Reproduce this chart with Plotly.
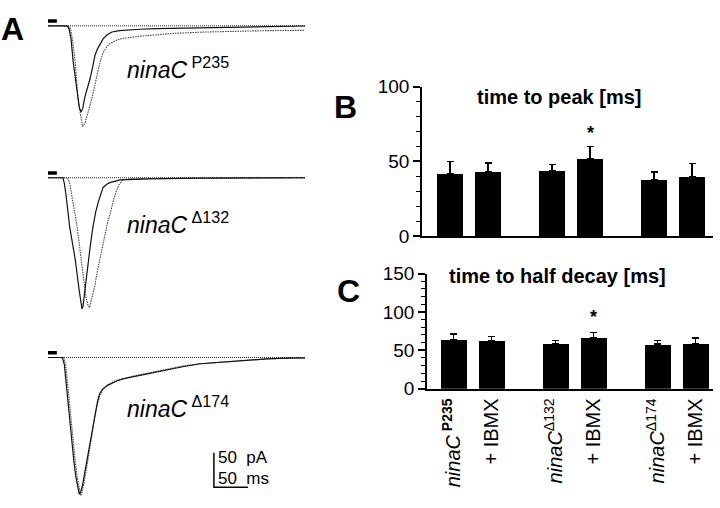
import plotly.graph_objects as go

W, H = 720, 508

# ---- Panel A: photoresponses (time in ms, current in pA) ----
p235_ctrl_t = [0, 28, 31, 34, 37, 40, 43, 46, 48.5, 51, 54, 58, 62, 66, 69, 73, 76, 81, 87, 94,
               105, 116, 135, 160, 190, 224, 260, 297, 340, 378]
p235_ctrl_i = [0, 0, -4, -20, -52, -76, -98, -118, -125, -120, -104, -90, -76, -58, -43, -33, -27,
               -19, -13, -9, -7, -6, -5, -4, -3.5, -2.5, -1.8, -1, -0.6, -0.3]
p235_ibmx_t = [0, 30, 33, 36, 40, 44, 48, 51, 54, 57, 61, 66, 70, 74, 78, 81, 86, 91, 98, 106,
               120, 135, 160, 184, 230, 268, 320, 378]
p235_ibmx_i = [0, 0, -4, -20, -53, -104, -130, -146, -142, -133, -118, -99, -80, -63, -48, -39,
               -31, -26, -22, -19, -17, -15, -13, -11, -9, -8, -7, -6.5]

d132_ctrl_t = [0, 22, 24, 26.5, 32, 40, 46, 48.5, 50, 51.5, 54, 59, 62, 66, 70, 74, 78, 81, 87,
               91, 106, 150, 220, 300, 378]
d132_ctrl_i = [0, 0, -8, -25, -72, -118, -164, -182, -190, -186, -164, -128, -100, -72, -50, -35,
               -22, -14, -9, -7, -3, -1.5, -0.5, 0, 0]
d132_ibmx_t = [0, 29, 32, 35, 43, 50, 56, 59, 61, 63, 66, 69, 72, 76, 80, 84, 88, 92, 96, 101,
               105, 110, 120, 150, 220, 300, 378]
d132_ibmx_i = [0, 0, -8, -25, -72, -128, -174, -185, -188, -180, -168, -156, -138, -118, -100,
               -82, -63, -50, -33, -18, -9, -3, -1.5, -1, -0.5, 0, 0]

d174_ctrl_t = [0, 21, 24, 26, 28, 31, 35, 38, 41, 44, 46, 48, 51, 54, 58, 62, 66, 69, 73, 76, 81,
               87, 94, 101, 110, 125, 150, 175, 200, 224, 250, 272, 300, 322, 350, 378]
d174_ctrl_i = [0, 0, -10, -30, -52, -85, -122, -150, -173, -192, -198, -195, -184, -167, -145,
               -122, -98, -80, -63, -52, -45, -41, -37, -34, -31, -28, -22, -17, -13, -9, -7, -6,
               -4, -2, -1, -0.5]
d174_ibmx_t = [0, 23, 26, 28, 30, 33, 37, 40, 43, 46, 48, 50, 53, 56, 60, 64, 68, 72, 76, 81, 87,
               94, 101, 110, 125, 150, 175, 200, 224, 250, 272, 300, 322, 350, 378]
d174_ibmx_i = [0, 0, -10, -30, -52, -85, -122, -150, -173, -192, -200, -196, -182, -165, -140,
               -114, -90, -70, -56, -46, -40, -36, -33, -31, -27, -22, -17, -12, -9, -7, -5, -3,
               -2, -1, -0.5]

stim_t = [0, 13]        # flash duration (ms)
stim_level = 7          # drawn just above baseline (pA)
record_t = [0, 378]     # length of each sweep (ms)
scale_ms = 50
scale_pA = 50

# ---- Panels B and C: summary bars ----
bar_labels = ["<i>ninaC</i><sup><b> P235</b></sup>", "+ IBMX",
              "<i>ninaC</i><sup>Δ132</sup>", "+ IBMX",
              "<i>ninaC</i><sup>Δ174</sup>", "+ IBMX"]
peak_mean = [42, 43, 44, 52, 38, 40]
peak_err = [8, 6, 4, 8, 5, 8.5]
half_mean = [64, 62, 59, 67, 58, 59]
half_err = [7, 6, 4, 6, 5, 7]
signif = [False, False, False, True, False, False]

# ---------------------------------------------------------------
def px_x(p):
    return p / W


def px_y(p):
    return 1 - p / H


PX_PER_MS = 0.68
PX_PER_PA = 0.72
A_LEFT, A_RIGHT, T0_PX = 40, 310, 48

fig = go.Figure()

rows = [
    (p235_ctrl_t, p235_ctrl_i, p235_ibmx_t, p235_ibmx_i, 5, 135, 16.5),
    (d132_ctrl_t, d132_ctrl_i, d132_ibmx_t, d132_ibmx_i, 160, 320, 175),
    (d174_ctrl_t, d174_ctrl_i, d174_ibmx_t, d174_ibmx_i, 345, 508, 362.5),
]

layout_axes = {}
for k, (ct, ci, it, ii, top, bot, base) in enumerate(rows, start=1):
    xa = "x" if k == 1 else "x%d" % k
    ya = "y" if k == 1 else "y%d" % k
    # baseline (dotted reference)
    fig.add_trace(go.Scatter(x=record_t, y=[0, 0], mode="lines", xaxis=xa, yaxis=ya,
                             line=dict(color="#222", width=1, dash="1px,1px"), showlegend=False))
    fig.add_trace(go.Scatter(x=it, y=ii, mode="lines", xaxis=xa, yaxis=ya,
                             line=dict(color="#444", width=1.1, dash="1.5px,1px"),
                             showlegend=False))
    fig.add_trace(go.Scatter(x=ct, y=ci, mode="lines", xaxis=xa, yaxis=ya,
                             line=dict(color="#111", width=1.2), showlegend=False))
    # flash marker
    fig.add_trace(go.Scatter(x=stim_t, y=[stim_level] * 2, mode="lines", xaxis=xa, yaxis=ya,
                             line=dict(color="black", width=3.5), showlegend=False))
    xkey = "xaxis" if k == 1 else "xaxis%d" % k
    ykey = "yaxis" if k == 1 else "yaxis%d" % k
    layout_axes[xkey] = dict(domain=[px_x(A_LEFT), px_x(A_RIGHT)],
                             range=[(A_LEFT - T0_PX) / PX_PER_MS, (A_RIGHT - T0_PX) / PX_PER_MS],
                             visible=False, anchor=ya)
    layout_axes[ykey] = dict(domain=[px_y(bot), px_y(top)],
                             range=[-(bot - base) / PX_PER_PA, (base - top) / PX_PER_PA],
                             visible=False, anchor=xa)

# scale bar on the bottom sweep
sb_t0, sb_i0 = 244, -188
fig.add_trace(go.Scatter(x=[sb_t0, sb_t0, sb_t0 + scale_ms],
                         y=[sb_i0 + scale_pA, sb_i0, sb_i0],
                         mode="lines", xaxis="x3", yaxis="y3",
                         line=dict(color="black", width=1.5), showlegend=False))

# bar positions: two bars per genotype, wider gap between genotypes
group_gap = 2.685
xpos = [g * group_gap + j for g in range(3) for j in (0, 1)]
bw = 26 / 38

fig.add_trace(go.Bar(x=xpos, y=peak_mean, width=bw, marker=dict(color="black", line_width=0),
                     error_y=dict(type="data", array=peak_err, arrayminus=[0] * 6, symmetric=False,
                                  color="black", thickness=1.5, width=3.5),
                     xaxis="x4", yaxis="y4", showlegend=False))
fig.add_trace(go.Bar(x=xpos, y=half_mean, width=bw, marker=dict(color="black", line_width=0),
                     error_y=dict(type="data", array=half_err, arrayminus=[0] * 6, symmetric=False,
                                  color="black", thickness=1.5, width=3.5),
                     xaxis="x5", yaxis="y5", showlegend=False))

tick_font = dict(family="Arial, Liberation Sans", size=19, color="black")
bar_axis = dict(showgrid=False, zeroline=False, showline=True, linecolor="black", linewidth=1.5)

layout_axes["xaxis4"] = dict(domain=[px_x(422), px_x(713)],
                             range=[(422 - 450) / 38, (713 - 450) / 38],
                             showticklabels=False, ticks="", anchor="y4", **bar_axis)
layout_axes["yaxis4"] = dict(domain=[px_y(236), px_y(80)], range=[0, 100], tickvals=[0, 50, 100],
                             ticks="outside", ticklen=7, tickwidth=1.5, tickcolor="black",
                             minor=dict(dtick=10, ticks="outside", ticklen=4, tickwidth=1.2,
                                        tickcolor="black"),
                             tickfont=tick_font, anchor="x4", **bar_axis)
layout_axes["xaxis5"] = dict(domain=[px_x(427), px_x(713)],
                             range=[(427 - 453.5) / 38, (713 - 453.5) / 38],
                             tickvals=xpos, ticktext=bar_labels, tickangle=-90, ticks="",
                             tickfont=dict(family="Arial, Liberation Sans", size=20,
                                           color="black"),
                             anchor="y5", **bar_axis)
layout_axes["yaxis5"] = dict(domain=[px_y(395), px_y(275)], range=[0, 150],
                             tickvals=[0, 50, 100, 150],
                             ticks="outside", ticklen=7, tickwidth=1.5, tickcolor="black",
                             minor=dict(dtick=10, ticks="outside", ticklen=4, tickwidth=1.2,
                                        tickcolor="black"),
                             tickfont=tick_font, anchor="x5", **bar_axis)

font_main = "Arial, Liberation Sans, Helvetica"
annotations = [
    dict(text="<b>A</b>", x=px_x(12), y=px_y(20), font=dict(size=32)),
    dict(text="<b>B</b>", x=px_x(345), y=px_y(101), font=dict(size=32)),
    dict(text="<b>C</b>", x=px_x(348), y=px_y(293), font=dict(size=32)),
    dict(text="<b>time to peak [ms]</b>", x=px_x(559), y=px_y(91), font=dict(size=20)),
    dict(text="<b>time to half decay [ms]</b>", x=px_x(557), y=px_y(277), font=dict(size=20)),
    dict(text="<i>ninaC</i><sup> P235</sup>", x=px_x(125), y=px_y(60), xanchor="left",
         font=dict(size=23)),
    dict(text="<i>ninaC</i><sup> Δ132</sup>", x=px_x(125), y=px_y(222), xanchor="left",
         font=dict(size=23)),
    dict(text="<i>ninaC</i><sup> Δ174</sup>", x=px_x(125), y=px_y(414), xanchor="left",
         font=dict(size=23)),
    dict(text="50  pA", x=px_x(217), y=px_y(466.5), xanchor="left", font=dict(size=17),
         borderpad=0),
    dict(text="50  ms", x=px_x(217), y=px_y(488.5), xanchor="left", font=dict(size=17),
         borderpad=0),
]
for a in annotations:
    a.setdefault("xanchor", "center")
    a.update(xref="paper", yref="paper", showarrow=False, yanchor="middle")
    a["font"].update(family=font_main, color="black")

# significance marks
for xi, mi, ei, s in zip(xpos, peak_mean, peak_err, signif):
    if s:
        annotations.append(dict(text="<b>*</b>", x=xi, y=mi + ei, xref="x4", yref="y4",
                                showarrow=False, yanchor="bottom", yshift=2,
                                font=dict(family=font_main, size=18, color="black")))
for xi, mi, ei, s in zip(xpos, half_mean, half_err, signif):
    if s:
        annotations.append(dict(text="<b>*</b>", x=xi, y=mi + ei, xref="x5", yref="y5",
                                showarrow=False, yanchor="bottom", yshift=4,
                                font=dict(family=font_main, size=18, color="black")))

fig.update_layout(width=W, height=H, margin=dict(l=0, r=0, t=0, b=0),
                  paper_bgcolor="white", plot_bgcolor="white",
                  font=dict(family=font_main, color="black"),
                  annotations=annotations, bargap=0, **layout_axes)

# the page's default body margin would shift the figure by 8px
fig.write_html("out.html", config={"displayModeBar": False},
               post_script="document.body.style.margin='0';")
